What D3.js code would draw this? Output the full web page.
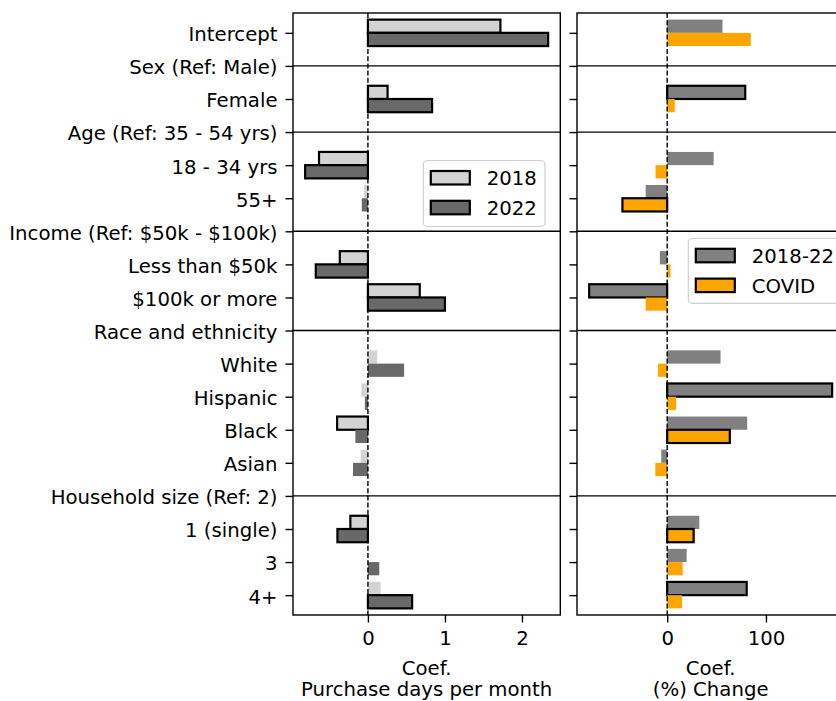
<!DOCTYPE html>
<html>
<head>
<meta charset="utf-8">
<script src="https://cdn.jsdelivr.net/npm/d3@7"></script>
<style>
  html, body { margin: 0; padding: 0; background: #fff; }
  svg { display: block; font-family: "DejaVu Sans", sans-serif; }
</style>
</head>
<body>
<svg id="chart" width="836" height="701"></svg>
<script>
// Row labels, top to bottom; group headers carry no bars
const categories = [
  "Intercept", "Sex (Ref: Male)", "Female", "Age (Ref: 35 - 54 yrs)",
  "18 - 34 yrs", "55+", "Income (Ref: $50k - $100k)", "Less than $50k",
  "$100k or more", "Race and ethnicity", "White", "Hispanic", "Black",
  "Asian", "Household size (Ref: 2)", "1 (single)", "3", "4+"
];
const groupHeaders = [
  "Sex (Ref: Male)", "Age (Ref: 35 - 54 yrs)", "Income (Ref: $50k - $100k)",
  "Race and ethnicity", "Household size (Ref: 2)"
];

// Purchase days per month coefficients
const coef2018 = [1.72, null, 0.255, null, -0.635, -0.05, null, -0.365, 0.673, null, 0.12, -0.085, -0.40, -0.094, null, -0.228, 0.005, 0.165];
const coef2022 = [2.34, null, 0.833, null, -0.815, -0.08, null, -0.677, 1.0, null, 0.47, -0.04, -0.163, -0.194, null, -0.396, 0.147, 0.574];
const sig2018  = [1, 0, 1, 0, 1, 0, 0, 1, 1, 0, 0, 0, 1, 0, 0, 1, 0, 0];
const sig2022  = [1, 0, 1, 0, 1, 0, 0, 1, 1, 0, 0, 0, 0, 0, 0, 1, 0, 1];

// Percent change coefficients
const change2018to22 = [56, null, 79, null, 47, -21.8, null, -7.4, -79, null, 54, 167, 81, -6, null, 32.5, 19.7, 80.5];
const changeCovid    = [84.6, null, 7.7, null, -11.8, -45.3, null, 3.3, -21.8, null, -9.4, 9, 63.4, -12, null, 26.8, 15.7, 15];
const sigChange      = [0, 0, 1, 0, 0, 0, 0, 0, 1, 0, 0, 1, 0, 0, 0, 0, 0, 1];
const sigCovid       = [0, 0, 0, 0, 0, 1, 0, 0, 0, 0, 0, 0, 1, 0, 0, 1, 0, 0];

const leftTicks = [0, 1, 2];
const rightTicks = [0, 100];
const leftTitle = ["Coef.", "Purchase days per month"];
const rightTitle = ["Coef.", "(%) Change"];
const leftLegend = ["2018", "2022"];
const rightLegend = ["2018-22", "COVID"];

const FONT = 19.7;
const svg = d3.select("#chart");

const plotTop = 13, plotBottom = 615;
const y = d3.scaleLinear().domain([-0.6, categories.length - 0.4]).range([plotTop, plotBottom]);
const barH = y(0.4) - y(0);

function paddedDomain(arrays) {
  const vals = arrays.flat().filter(v => v != null).concat([0]);
  const [lo, hi] = d3.extent(vals);
  const pad = (hi - lo) * 0.05;
  return [lo - pad, hi + pad];
}

function panel(opts) {
  const { x0, x1, series, colors, sigs, ticks, title, showLabels, legend, legendBox } = opts;
  const x = d3.scaleLinear().domain(paddedDomain(series)).range([x0, x1]);
  const g = svg.append("g");

  // group separators
  g.selectAll("line.sep")
    .data(categories.map((c, i) => ({ c, i })).filter(d => groupHeaders.includes(d.c)))
    .join("line")
    .attr("x1", x0).attr("x2", x1)
    .attr("y1", d => y(d.i)).attr("y2", d => y(d.i))
    .attr("stroke", "#000").attr("stroke-width", 1.4);

  // bars: first series above the row centre, second below
  series.forEach((vals, s) => {
    g.append("g").selectAll("rect")
      .data(vals.map((v, i) => ({ v, i, sig: sigs[s][i] })).filter(d => d.v != null))
      .join("rect")
      .attr("x", d => Math.min(x(0), x(d.v)))
      .attr("width", d => Math.abs(x(d.v) - x(0)))
      .attr("y", d => s === 0 ? y(d.i) - barH : y(d.i))
      .attr("height", barH)
      .attr("fill", colors[s])
      .attr("stroke", d => d.sig ? "#000" : "none")
      .attr("stroke-width", 2.2);
  });

  // zero reference
  g.append("line")
    .attr("x1", x(0)).attr("x2", x(0))
    .attr("y1", plotTop).attr("y2", plotBottom)
    .attr("stroke", "#000").attr("stroke-width", 1.4)
    .attr("stroke-dasharray", "5,2.2");

  // frame
  g.append("rect")
    .attr("x", x0).attr("y", plotTop)
    .attr("width", x1 - x0).attr("height", plotBottom - plotTop)
    .attr("fill", "none").attr("stroke", "#000").attr("stroke-width", 1.4);

  // y axis
  const yAxis = d3.axisLeft(y)
    .tickValues(d3.range(categories.length))
    .tickSize(7.5).tickPadding(8)
    .tickFormat(i => showLabels ? categories[i] : "");
  const ya = g.append("g").attr("transform", `translate(${x0},0)`).call(yAxis);
  ya.select(".domain").remove();
  ya.selectAll(".tick line").attr("stroke", "#000").attr("stroke-width", 1.4);
  ya.selectAll(".tick text")
    .attr("font-size", FONT).attr("font-family", "DejaVu Sans")
    .attr("fill", "#000").attr("dy", "0.4em");

  // x axis
  const xAxis = d3.axisBottom(x).tickValues(ticks).tickSize(7.5).tickPadding(8).tickFormat(d3.format("d"));
  const xa = g.append("g").attr("transform", `translate(0,${plotBottom})`).call(xAxis);
  xa.select(".domain").remove();
  xa.selectAll(".tick line").attr("stroke", "#000").attr("stroke-width", 1.4);
  xa.selectAll(".tick text")
    .attr("font-size", FONT).attr("font-family", "DejaVu Sans")
    .attr("fill", "#000").attr("dy", "0.72em");

  // axis title
  const cx = (x0 + x1) / 2;
  g.append("text").attr("x", cx).attr("y", 674.5).attr("text-anchor", "middle")
    .attr("font-size", FONT).text(title[0]);
  g.append("text").attr("x", cx).attr("y", 696).attr("text-anchor", "middle")
    .attr("font-size", FONT).text(title[1]);

  // legend
  const lg = g.append("g");
  lg.append("rect")
    .attr("x", legendBox.x).attr("y", legendBox.y)
    .attr("width", legendBox.w).attr("height", legendBox.h)
    .attr("rx", 4).attr("ry", 4)
    .attr("fill", "#fff").attr("fill-opacity", 0.8)
    .attr("stroke", "#d0d0d0").attr("stroke-width", 1.2);
  legend.forEach((lab, k) => {
    const py = legendBox.y + 10.5 + k * 29.8;
    lg.append("rect")
      .attr("x", legendBox.x + 7.5).attr("y", py)
      .attr("width", 39).attr("height", 13.5)
      .attr("fill", colors[k]).attr("stroke", "#000").attr("stroke-width", 2.2);
    lg.append("text")
      .attr("x", legendBox.x + 63.5).attr("y", py + 14)
      .attr("font-size", FONT).text(lab);
  });
}

panel({
  x0: 293, x1: 560.3,
  series: [coef2018, coef2022],
  colors: ["#d3d3d3", "#696969"],
  sigs: [sig2018, sig2022],
  ticks: leftTicks, title: leftTitle, showLabels: true,
  legend: leftLegend,
  legendBox: { x: 423.3, y: 160.5, w: 121.7, h: 66 }
});

panel({
  x0: 577, x1: 844.3,
  series: [change2018to22, changeCovid],
  colors: ["#808080", "#ffa500"],
  sigs: [sigChange, sigCovid],
  ticks: rightTicks, title: rightTitle, showLabels: false,
  legend: rightLegend,
  legendBox: { x: 688.3, y: 238.3, w: 160, h: 65 }
});
</script>
</body>
</html>
